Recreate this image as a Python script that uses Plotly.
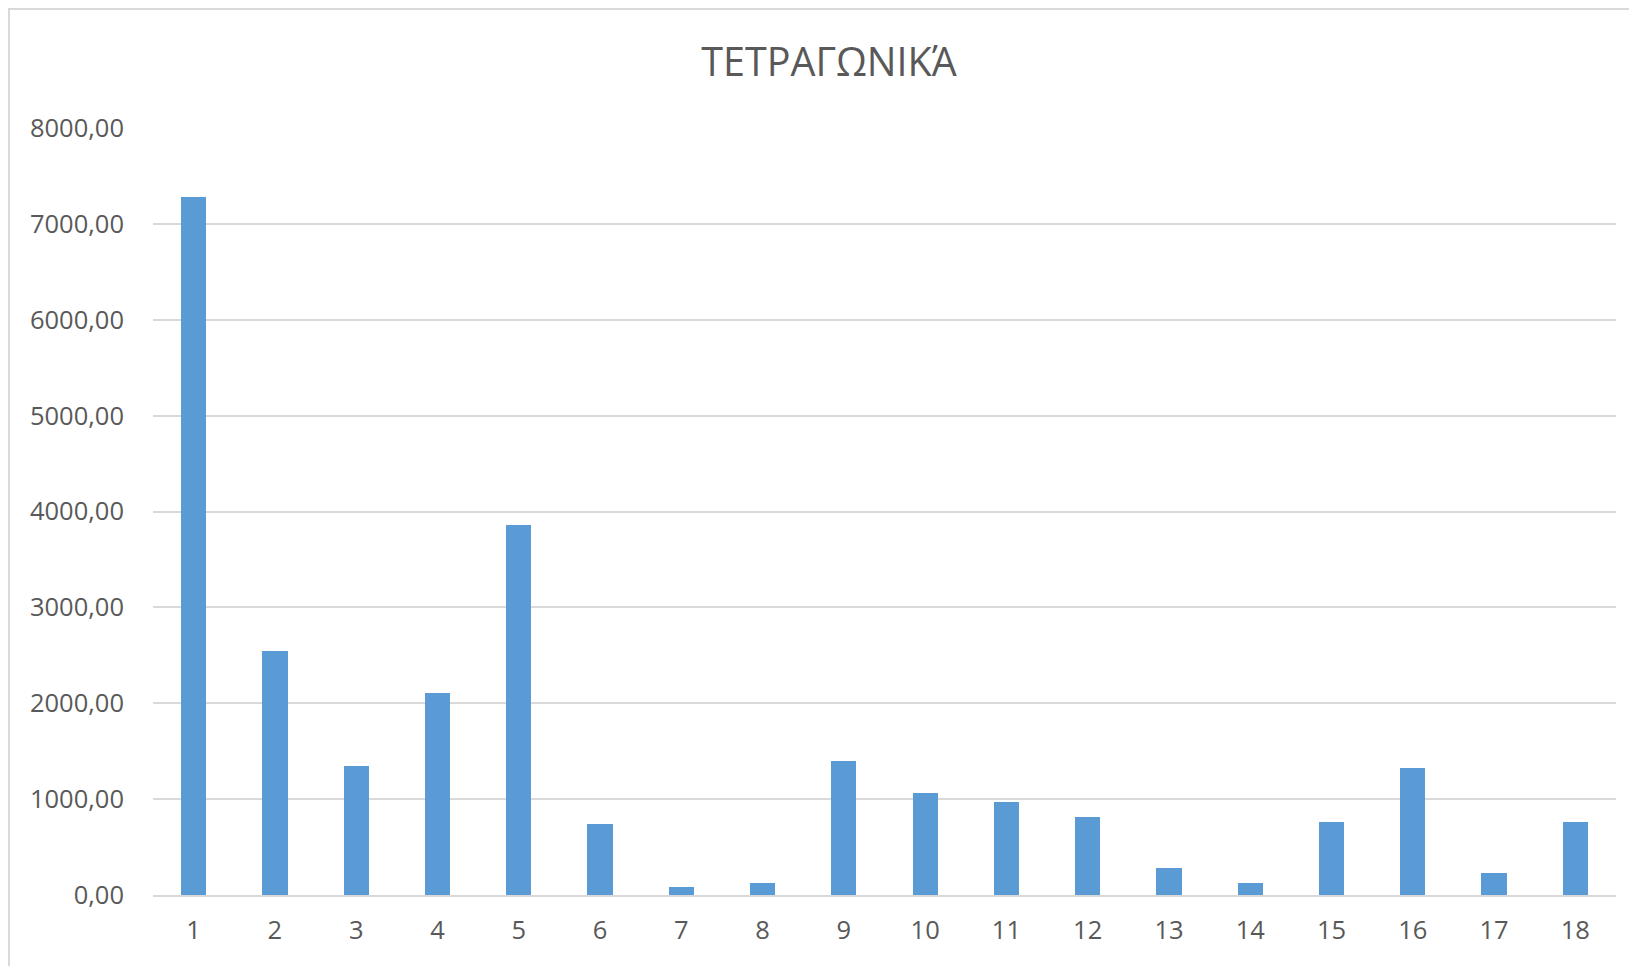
import plotly.graph_objects as go

categories = [str(i) for i in range(1, 19)]
values = [7277, 2540, 1348, 2110, 3858, 743, 81, 130, 1396,
          1066, 968, 816, 284, 130, 764, 1323, 232, 764]
y_ticks = [0, 1000, 2000, 3000, 4000, 5000, 6000, 7000, 8000]
title_text = "ΤΕΤΡΑΓΩΝΙΚΆ"

# page has 8px body margin; figure coords = page coords - 8
OFF = 8
W, H = 1637, 966
L = 153 - OFF
T = 128 - OFF
R = W - (1616 - OFF)
B = H - (895.5 - OFF)
font_family = "Open Sans, Lato, sans-serif"
text_color = "#595959"
grid_color = "#d9d9d9"

fig = go.Figure()
fig.add_trace(go.Bar(
    x=categories, y=values, width=0.31,
    marker=dict(color="#5B9BD5", line=dict(width=0)),
))

fig.update_layout(
    width=W, height=H,
    margin=dict(l=L, r=R, t=T, b=B, autoexpand=False),
    paper_bgcolor="white", plot_bgcolor="white",
    separators=",.",
    showlegend=False,
    font=dict(family=font_family, color=text_color, size=25.5),
    title=dict(text=title_text, x=(829 - OFF) / W, xref="container", xanchor="center",
               y=1 - (62 - OFF) / H, yref="container", yanchor="middle",
               font=dict(family=font_family, size=39.5, color=text_color)),
    bargap=0,
)
fig.update_xaxes(type="category", showgrid=False, showline=True, linecolor=grid_color,
                 linewidth=1.5, ticks="", ticklabelstandoff=12,
                 tickfont=dict(size=25.5, color=text_color))
fig.update_yaxes(range=[0, 8000], tickvals=y_ticks, tickformat=".2f",
                 showgrid=True, gridcolor=grid_color, gridwidth=1.5,
                 zeroline=False, showline=False, ticks="",
                 ticklabelstandoff=28, tickfont=dict(size=25.5, color=text_color))

# outer chart border (cropped at right and bottom)
pw = W - L - R
ph = H - T - B
fig.add_shape(type="rect", xref="paper", yref="paper",
              x0=(9 - OFF - L) / pw, x1=1.2,
              y0=-0.3, y1=(H - B - (9 - OFF)) / ph,
              line=dict(color=grid_color, width=2), fillcolor="rgba(0,0,0,0)", layer="below")

fig.write_html("out.html")
